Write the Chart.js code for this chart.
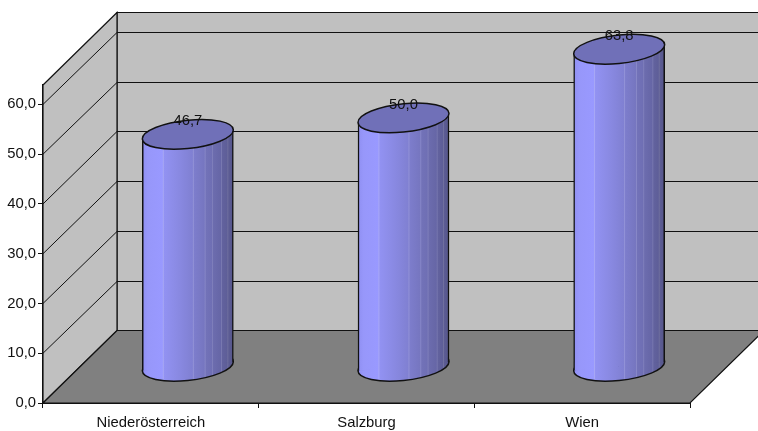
<!DOCTYPE html>
<html>
<head>
<meta charset="utf-8">
<style>
  html, body { margin: 0; padding: 0; background: #fff; overflow: hidden; }
  #wrap { width: 758px; height: 431px; }
  canvas { display: block; }
</style>
<script src="https://cdn.jsdelivr.net/npm/chart.js@4"></script>
</head>
<body>
<div id="wrap"><canvas id="myChart" width="758" height="431"></canvas></div>
<script>
const categories = ["Niederösterreich", "Salzburg", "Wien"];
const values = [46.7, 50.0, 63.8];
const axisMax = 63.9;

const fontName = '"Liberation Sans", Arial, sans-serif';
const fontSize = 14.8;
const edgeColor = "#111";

// depth of the box, front plane to back wall
const depthX = 74;
const depthY = -72.5;

// cylinder shape
const barWidth = 91;
const capHeight = 14.2;
const capTilt = 4.5;

// shading bands across the cylinder, left to right
const shadeStops = [
  [0, "#8f8ff2"], [0.06, "#9797fa"], [0.22, "#9999ff"], [0.23, "#a9a9f4"], [0.24, "#9292f2"],
  [0.42, "#8888e0"], [0.55, "#8080d2"], [0.56, "#9494d8"], [0.57, "#7d7dcc"],
  [0.68, "#7676c0"], [0.69, "#8888c8"], [0.70, "#7272b8"], [0.76, "#6f6fb4"], [0.77, "#8080bc"],
  [0.78, "#6c6cae"], [0.86, "#6666a6"], [0.87, "#7878b0"], [0.88, "#62629e"],
  [0.93, "#5e5e98"], [0.94, "#70709f"], [0.95, "#5c5c94"], [1, "#55558a"]
];

const shadeFor = (c) => {
  const scale = c.chart.scales.x;
  // options also get resolved once per dataset, with no bar index
  if (!scale || c.dataIndex === undefined) return "#8080d0";
  const x = scale.getPixelForValue(c.dataIndex);
  if (!Number.isFinite(x)) return "#8080d0";
  const g = c.chart.ctx.createLinearGradient(x - barWidth / 2, 0, x + barWidth / 2, 0);
  shadeStops.forEach(([pos, col]) => g.addColorStop(pos, col));
  return g;
};

// walls, floor and the grid lines running over them
const boxPlugin = {
  id: "box",
  beforeDatasetsDraw(chart) {
    const { ctx, scales: { x, y } } = chart;
    const left = x.left, right = x.right;
    const top = y.getPixelForValue(axisMax), bottom = y.getPixelForValue(0);

    const poly = (pts, fill) => {
      ctx.beginPath();
      pts.forEach(([px, py], i) => (i ? ctx.lineTo(px, py) : ctx.moveTo(px, py)));
      ctx.closePath();
      ctx.fillStyle = fill;
      ctx.fill();
      ctx.stroke();
    };

    ctx.save();
    ctx.strokeStyle = edgeColor;
    ctx.lineWidth = 1.2;
    poly([[left + depthX, top + depthY], [right + depthX, top + depthY], [right + depthX, bottom + depthY], [left + depthX, bottom + depthY]], "#c0c0c0");
    poly([[left, top], [left + depthX, top + depthY], [left + depthX, bottom + depthY], [left, bottom]], "#c0c0c0");
    poly([[left, bottom], [left + depthX, bottom + depthY], [right + depthX, bottom + depthY], [right, bottom]], "#808080");

    ctx.lineWidth = 1;
    y.ticks.forEach((t) => {
      if (t.value === 0) return;
      const py = y.getPixelForValue(t.value);
      const backY = Math.round(py + depthY) + 0.5;
      ctx.beginPath();
      ctx.moveTo(left, py);
      ctx.lineTo(left + depthX, backY);
      ctx.lineTo(right + depthX, backY);
      ctx.stroke();
    });
    ctx.restore();
  }
};

// draws each bar as a cylinder, pushed back to the middle of the box
const cylinderPlugin = {
  id: "cylinder",
  beforeDatasetDraw(chart, args) {
    const { ctx } = chart;
    const bars = args.meta.data;
    const cap = (x, y, fill) => {
      ctx.beginPath();
      ctx.ellipse(x, y, barWidth / 2, capHeight, 0, 0, Math.PI * 2);
      ctx.fillStyle = fill;
      ctx.fill();
      ctx.lineWidth = 1.5;
      ctx.strokeStyle = edgeColor;
      ctx.stroke();
    };
    bars.forEach((bar) => {
      const k = capTilt / (barWidth / 2);
      ctx.save();
      ctx.translate(depthX / 2, depthY / 2);
      // shear around the bar's centre so the ends lean up to the right
      ctx.transform(1, -k, 0, 1, 0, k * bar.x);
      cap(bar.x, bar.base, bar.options.backgroundColor);
      bar.draw(ctx);
      cap(bar.x, bar.y, "#7070b8");
      ctx.restore();
    });
    return false;
  },
  afterDatasetsDraw(chart) {
    const { ctx } = chart;
    const bars = chart.getDatasetMeta(0).data;
    ctx.save();
    ctx.font = fontSize + "px " + fontName;
    ctx.fillStyle = "#111";
    ctx.textAlign = "center";
    ctx.textBaseline = "middle";
    bars.forEach((bar, i) => {
      ctx.fillText(values[i].toFixed(1).replace(".", ","), bar.x + depthX / 2, bar.y + depthY / 2 - 13);
    });
    ctx.restore();
  }
};

new Chart(document.getElementById("myChart"), {
  type: "bar",
  data: {
    labels: categories,
    datasets: [{
      data: values,
      barThickness: barWidth,
      backgroundColor: shadeFor,
      borderColor: edgeColor,
      borderWidth: { left: 1.5, right: 1.5, top: 0, bottom: 0 },
      borderSkipped: false
    }]
  },
  options: {
    responsive: false,
    animation: false,
    layout: { padding: { top: 85, right: 68, bottom: 0, left: 0 } },
    plugins: { legend: { display: false }, tooltip: { enabled: false } },
    scales: {
      x: {
        afterFit: (s) => { s.height = 28; },
        grid: { offset: true, drawOnChartArea: false, tickLength: 5, color: edgeColor },
        border: { color: edgeColor, width: 2 },
        ticks: { color: "#111", padding: 6, maxRotation: 0, font: { family: fontName, size: fontSize } }
      },
      y: {
        min: 0,
        max: axisMax,
        afterFit: (s) => { s.width = 43; },
        grid: { drawOnChartArea: false, tickLength: 5, color: edgeColor },
        border: { color: edgeColor, width: 2 },
        ticks: {
          stepSize: 10,
          includeBounds: false,
          color: "#111",
          padding: 2,
          font: { family: fontName, size: fontSize },
          callback: (v) => v.toFixed(1).replace(".", ",")
        }
      }
    }
  },
  plugins: [boxPlugin, cylinderPlugin]
});
</script>
</body>
</html>
